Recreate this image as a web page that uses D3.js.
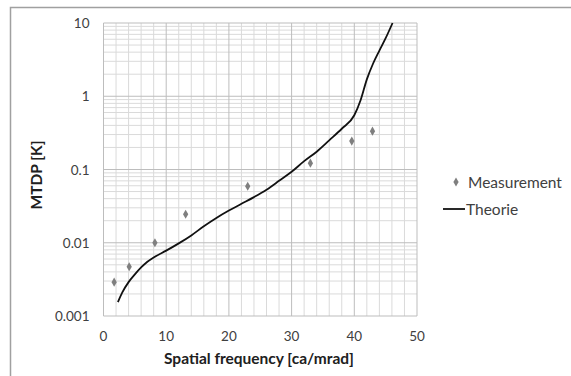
<!DOCTYPE html>
<html lang="en">
<head>
<meta charset="UTF-8">
<title>MTDP vs spatial frequency</title>
<script src="https://d3js.org/d3.v7.min.js"></script>
<style>
    body { margin: 0; background: #fff; }
    svg text { font-family: Lato, "Liberation Sans", "DejaVu Sans", sans-serif; }
    .tick-label { font-size: 13.5px; fill: #404040; }
    .axis-title { font-size: 15.5px; font-weight: bold; fill: #202020; }
    .legend text { font-size: 15.5px; fill: #404040; }
</style>
</head>
<body>
<script>
// Measurement points
const measFreq = [1.7, 4.1, 8.2, 13.1, 23.0, 33.0, 39.6, 42.9];
const measMtdp = [0.0029, 0.0047, 0.0100, 0.0245, 0.059, 0.122, 0.244, 0.334];

// Theory curve
const theoFreq = [2.3, 3, 4, 5, 6, 7, 8, 10, 12, 14, 16, 18, 20, 22, 24, 26, 28, 30, 32, 34, 36, 38, 40, 41, 42, 43, 44, 45, 46.1];
const theoMtdp = [0.00155, 0.0021, 0.0029, 0.0037, 0.0046, 0.0055, 0.0063, 0.0078, 0.0098, 0.0126, 0.0168, 0.0218, 0.0275, 0.034, 0.042, 0.053, 0.070, 0.093, 0.130, 0.175, 0.25, 0.36, 0.55, 0.88, 1.7, 2.8, 4.2, 6.2, 10];

const xTicks = [0, 10, 20, 30, 40, 50];
const yTicks = [0.001, 0.01, 0.1, 1, 10];
const yTickLabels = ["0.001", "0.01", "0.1", "1", "10"];

const W = 571, H = 376;
const plot = {left: 103.5, right: 417, top: 23, bottom: 316};

const svg = d3.select("body").append("svg")
    .attr("width", W)
    .attr("height", H);

// outer chart frame (top + left edges visible)
svg.append("rect")
    .attr("x", 10.5).attr("y", 7.5)
    .attr("width", W).attr("height", H)
    .attr("fill", "none")
    .attr("stroke", "#a0a0a0")
    .attr("stroke-width", 1.5);

const x = d3.scaleLinear().domain([0, 50]).range([plot.left, plot.right]);
const y = d3.scaleLog().domain([0.001, 10]).range([plot.bottom, plot.top]);

const grid = svg.append("g");

// minor vertical gridlines every 2
d3.range(0, 51, 2).filter(v => v % 10 !== 0).forEach(v => {
    grid.append("line")
        .attr("x1", x(v)).attr("x2", x(v))
        .attr("y1", plot.top).attr("y2", plot.bottom)
        .attr("stroke", "#dadada").attr("stroke-width", 1);
});
// minor horizontal gridlines (log 2..9)
for (let d = 0.001; d < 10; d *= 10) {
    for (let k = 2; k <= 9; k++) {
        const v = d * k;
        grid.append("line")
            .attr("x1", plot.left).attr("x2", plot.right)
            .attr("y1", y(v)).attr("y2", y(v))
            .attr("stroke", "#dadada").attr("stroke-width", 1);
    }
}
// major gridlines
xTicks.forEach(v => {
    grid.append("line")
        .attr("x1", x(v)).attr("x2", x(v))
        .attr("y1", plot.top).attr("y2", plot.bottom)
        .attr("stroke", "#bdbdbd").attr("stroke-width", 1);
});
yTicks.forEach(v => {
    grid.append("line")
        .attr("x1", plot.left).attr("x2", plot.right)
        .attr("y1", y(v)).attr("y2", y(v))
        .attr("stroke", "#bdbdbd").attr("stroke-width", 1);
});

// tick labels
svg.selectAll(".xl").data(xTicks).enter().append("text")
    .attr("class", "tick-label")
    .attr("x", d => x(d)).attr("y", plot.bottom + 25)
    .attr("text-anchor", "middle")
    .text(d => d);

svg.selectAll(".yl").data(yTicks).enter().append("text")
    .attr("class", "tick-label")
    .attr("x", plot.left - 14).attr("y", d => y(d) + 5)
    .attr("text-anchor", "end")
    .text((d, i) => yTickLabels[i]);

// axis titles
svg.append("text")
    .attr("class", "axis-title")
    .attr("x", 259).attr("y", 364)
    .attr("text-anchor", "middle")
    .text("Spatial frequency [ca/mrad]");

svg.append("text")
    .attr("class", "axis-title")
    .attr("transform", "translate(42,175) rotate(-90)")
    .attr("text-anchor", "middle")
    .text("MTDP [K]");

// theory line
const theo = theoFreq.map((f, i) => [f, theoMtdp[i]]);
svg.append("path")
    .datum(theo)
    .attr("fill", "none")
    .attr("stroke", "#111")
    .attr("stroke-width", 1.8)
    .attr("d", d3.line().x(d => x(d[0])).y(d => y(d[1])).curve(d3.curveMonotoneX));

// measurement markers (small diamonds)
const diamond = d3.symbol().type(d3.symbolDiamond).size(24);
svg.selectAll(".meas").data(measFreq).enter().append("path")
    .attr("d", diamond)
    .attr("transform", (d, i) => `translate(${x(d)},${y(measMtdp[i])})`)
    .attr("fill", "#7f7f7f");

// legend
const legend = svg.append("g").attr("class", "legend");
legend.append("path")
    .attr("d", diamond)
    .attr("transform", "translate(456,182)")
    .attr("fill", "#7f7f7f");
legend.append("text").attr("x", 468).attr("y", 188).text("Measurement");
legend.append("line")
    .attr("x1", 443).attr("x2", 465)
    .attr("y1", 209).attr("y2", 209)
    .attr("stroke", "#111").attr("stroke-width", 1.8);
legend.append("text").attr("x", 466).attr("y", 215).text("Theorie");
</script>
</body>
</html>
